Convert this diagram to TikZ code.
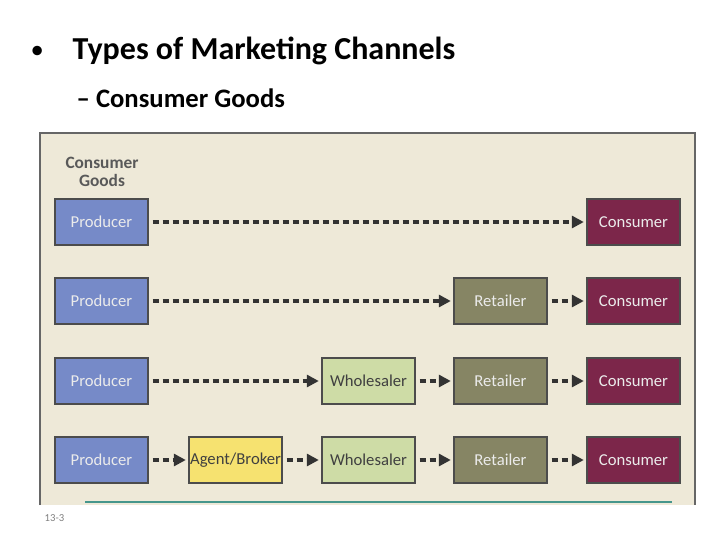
\documentclass[tikz,border=0pt]{standalone}
\usepackage{fontspec}
\setmainfont{Carlito}
\usetikzlibrary{arrows.meta}
\definecolor{bg}{RGB}{238,233,216}
\definecolor{prod}{RGB}{118,138,200}
\definecolor{agent}{RGB}{246,226,112}
\definecolor{whole}{RGB}{206,220,166}
\definecolor{ret}{RGB}{134,133,100}
\definecolor{cons}{RGB}{124,38,74}
\definecolor{teal}{RGB}{70,150,140}
\begin{document}
\begin{tikzpicture}[x=0.75pt,y=-0.75pt,
 box/.style={draw=black!70,line width=0.8pt,minimum width=69.75pt,minimum height=34.5pt,inner sep=0pt,font=\fontsize{12.5}{12.5}\selectfont},
 lt/.style={text=white!92!black},
 dk/.style={text=black!75},
 arr/.style={line width=2.4pt,draw=black!80,dash pattern=on 4.5pt off 3pt,-{Triangle[length=9pt,width=9pt]},shorten >=2pt,shorten <=3pt}]
\useasboundingbox (0,0) rectangle (728,546);
\fill[white] (0,0) rectangle (728,546);
\node[anchor=west,font=\fontsize{20}{20}\selectfont] (b1) at (26,52) {\textbullet};
\node[anchor=west,font=\bfseries\fontsize{24}{24}\selectfont] (t1) at (68,51) {Types of Marketing Channels};
\node[anchor=west,font=\bfseries\fontsize{20}{20}\selectfont] (t2) at (72,98) {– Consumer Goods};
\fill[bg] (40,133) rectangle (695,505);
\draw[black!60,line width=1.2pt] (40,505) -- (40,133) -- (695,133) -- (695,505);
\draw[teal,line width=1.5pt] (85,502) -- (672,502);
\node[align=center,text=black!65,font=\bfseries\fontsize{13}{14}\selectfont] (cg) at (102,172) {Consumer\\Goods};
\node[anchor=west,text=black!50,font=\fontsize{8}{8}\selectfont] (pg) at (40,518) {13-3};
% row 1
\node[box,fill=prod,lt] (p1) at (101.5,222) {Producer};
\node[box,fill=cons,lt] (c1) at (633.5,222) {Consumer};
\draw[arr] (p1) -- (c1);
% row 2
\node[box,fill=prod,lt] (p2) at (101.5,301) {Producer};
\node[box,fill=ret,lt] (r2) at (500.5,301) {Retailer};
\node[box,fill=cons,lt] (c2) at (633.5,301) {Consumer};
\draw[arr] (p2) -- (r2); \draw[arr] (r2) -- (c2);
% row 3
\node[box,fill=prod,lt] (p3) at (101.5,381) {Producer};
\node[box,fill=whole,dk] (w3) at (368.5,381) {Wholesaler};
\node[box,fill=ret,lt] (r3) at (500.5,381) {Retailer};
\node[box,fill=cons,lt] (c3) at (633.5,381) {Consumer};
\draw[arr] (p3) -- (w3); \draw[arr] (w3) -- (r3); \draw[arr] (r3) -- (c3);
% row 4
\node[box,fill=prod,lt] (p4) at (101.5,460) {Producer};
\node[box,fill=agent,dk] (a4) at (235.5,460) {Agent/Broker};
\node[box,fill=whole,dk] (w4) at (368.5,460) {Wholesaler};
\node[box,fill=ret,lt] (r4) at (500.5,460) {Retailer};
\node[box,fill=cons,lt] (c4) at (633.5,460) {Consumer};
\draw[arr] (p4) -- (a4); \draw[arr] (a4) -- (w4); \draw[arr] (w4) -- (r4); \draw[arr] (r4) -- (c4);
\end{tikzpicture}
\end{document}
